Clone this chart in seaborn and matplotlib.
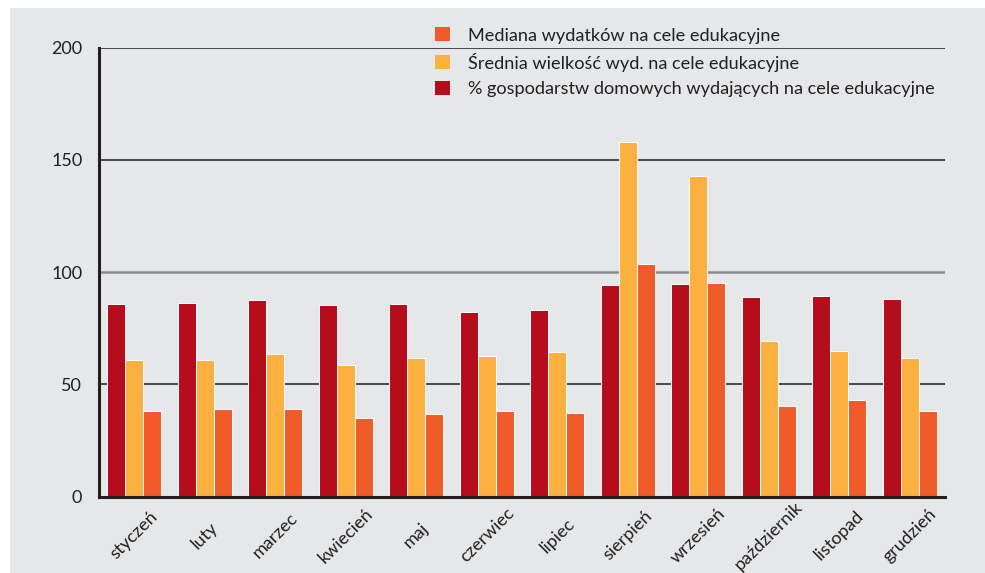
import matplotlib
matplotlib.use("Agg")
import matplotlib.pyplot as plt
from matplotlib.patches import Rectangle, Patch
import seaborn as sns
import pandas as pd

months = ["styczeń", "luty", "marzec", "kwiecień", "maj", "czerwiec",
          "lipiec", "sierpień", "wrzesień", "październik", "listopad", "grudzień"]
pct_households = [85.8, 86.2, 87.6, 85.3, 85.8, 82.2, 83.1, 94.3, 94.7, 88.9, 89.3, 87.9]
mean_spend = [60.8, 60.8, 63.5, 58.6, 61.7, 62.6, 64.4, 158.0, 142.8, 69.3, 64.8, 61.7]
median_spend = [38.1, 39.0, 39.0, 35.0, 36.8, 38.1, 37.2, 103.6, 95.1, 40.3, 43.0, 38.1]

lab_pct = "% gospodarstw domowych wydających na cele edukacyjne"
lab_mean = "Średnia wielkość wyd. na cele edukacyjne"
lab_median = "Mediana wydatków na cele edukacyjne"

colors = {lab_pct: "#b50d1c", lab_mean: "#fcb040", lab_median: "#f15a29"}
bg = "#e6e7e8"
ink = "#231f20"

df = pd.DataFrame({
    "miesiac": months * 3,
    "seria": [lab_pct] * 12 + [lab_mean] * 12 + [lab_median] * 12,
    "wartosc": pct_households + mean_spend + median_spend,
})

sns.set_style("white")
plt.rcParams["font.family"] = ["Lato", "DejaVu Sans"]

fig = plt.figure(figsize=(9.85, 5.73), dpi=100)
fig.patches.append(Rectangle((10 / 985, 0), 1, 1 - 8 / 573, transform=fig.transFigure,
                             facecolor=bg, edgecolor="none", zorder=-10))
ax = fig.add_axes([99 / 985, (573 - 496.5) / 573, 846 / 985, 448.8 / 573])
ax.set_facecolor(bg)

sns.barplot(data=df, x="miesiac", y="wartosc", hue="seria",
            hue_order=[lab_pct, lab_mean, lab_median], palette=colors,
            order=months, width=0.77, gap=0, saturation=1, ax=ax, legend=False,
            edgecolor="white", linewidth=0.7, zorder=3)

ax.set_xlim(-0.5, 11.5)
ax.set_ylim(0, 200)
ax.set_yticks([0, 50, 100, 150, 200])
ax.set_xlabel("")
ax.set_ylabel("")

for v, c, lw in [(50, "#3a3a3a", 1.3), (100, "#8a8a8a", 1.8), (150, "#3a3a3a", 1.3), (200, "#3a3a3a", 1.3)]:
    ax.axhline(v, color=c, lw=lw, zorder=1)

for side in ["top", "right"]:
    ax.spines[side].set_visible(False)
for side in ["left", "bottom"]:
    ax.spines[side].set_color(ink)
    ax.spines[side].set_linewidth(2.2)
    ax.spines[side].set_zorder(4)

ax.tick_params(axis="y", length=0, pad=12, labelsize=13, labelcolor=ink)
ax.tick_params(axis="x", which="major", length=0, pad=28, labelsize=13, labelcolor=ink)
ax.set_xticks([i + 0.5 for i in range(12)], minor=True)
ax.tick_params(axis="x", which="minor", direction="in", length=10, width=2.2, color=ink)
plt.setp(ax.get_xticklabels(), rotation=45, ha="center", va="center")

handles = [Patch(facecolor=colors[l], edgecolor="none") for l in [lab_median, lab_mean, lab_pct]]
fig.legend(handles, [lab_median, lab_mean, lab_pct], loc="upper left",
           bbox_to_anchor=(428 / 985, 1 - 20 / 573), frameon=False, fontsize=13.1,
           handlelength=0.8, handleheight=0.8, handletextpad=1.0, labelspacing=0.5,
           labelcolor=ink, borderaxespad=0)

fig.savefig("out.png", dpi=100, facecolor="white")
